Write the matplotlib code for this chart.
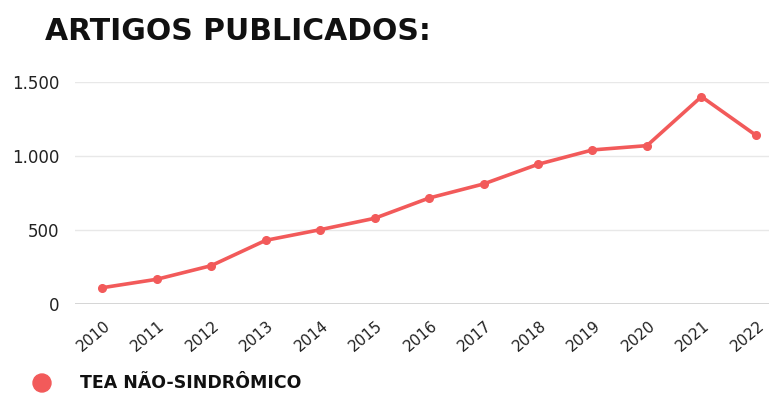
import matplotlib
matplotlib.use('Agg')
import matplotlib.pyplot as plt
import matplotlib.transforms as mtransforms
import numpy as np

# data
years = ['2010', '2011', '2012', '2013', '2014', '2015', '2016',
         '2017', '2018', '2019', '2020', '2021', '2022']
artigos = [110, 167, 259, 430, 502, 579, 716, 811, 944, 1041, 1070, 1401, 1140]
yticks = [0, 500, 1000, 1500]
ytick_labels = ['0', '500', '1.000', '1.500']

red = '#f25a5a'

plt.rcParams['font.family'] = ['DejaVu Sans']

fig = plt.figure(figsize=(7.69, 3.94), dpi=100)
ax = fig.add_axes([0.0975, 0.2284, 0.9025, 0.5635])

x = np.arange(len(years))
ax.plot(x, artigos, color=red, lw=2.6, marker='o', ms=5.5, zorder=3,
        solid_joinstyle='round')

ax.set_xlim(-0.5, len(years) - 1 + 0.24)
ax.set_ylim(0, 1500)
ax.set_yticks(yticks)
ax.set_yticklabels(ytick_labels, fontsize=12, color='#222222')
ax.set_xticks(x)
ax.set_xticklabels(years, fontsize=11, color='#222222', rotation=40, ha='right')

ax.tick_params(axis='both', length=0)
ax.tick_params(axis='y', pad=11)
ax.tick_params(axis='x', pad=10)
offset = mtransforms.ScaledTranslation(11 / 100, 0, fig.dpi_scale_trans)
for lab in ax.get_xticklabels():
    lab.set_transform(lab.get_transform() + offset)

for s in ax.spines.values():
    s.set_visible(False)
ax.grid(axis='y', color='#e8e8e8', lw=1)
ax.axhline(0, color='#cfcfcf', lw=1.2, zorder=1)
ax.set_axisbelow(True)

fig.text(45 / 769, 1 - 32 / 394, 'ARTIGOS PUBLICADOS:', fontsize=21.5,
         fontweight='bold', va='center', ha='left', color='#111111')

# legend
fig.patches.append(matplotlib.patches.Ellipse((42 / 769, 1 - 383 / 394),
                                              18 / 769, 18 / 394,
                                              transform=fig.transFigure,
                                              color=red))
fig.text(80 / 769, 1 - 383 / 394, 'TEA NÃO-SINDRÔMICO', fontsize=12.5,
         fontweight='bold', va='center', ha='left', color='#111111')

fig.savefig('out.png', dpi=100)
